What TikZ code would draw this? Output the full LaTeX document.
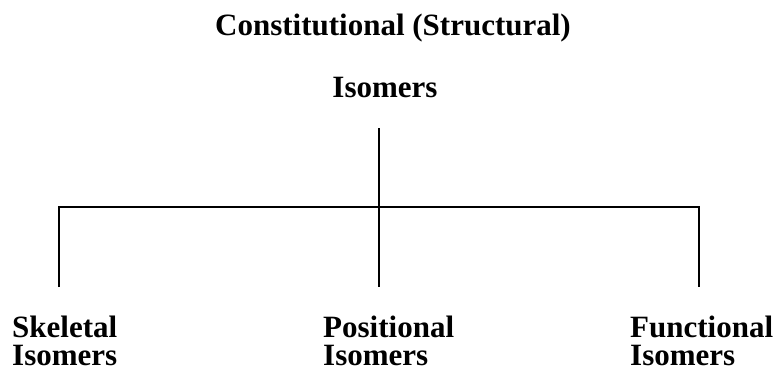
\documentclass[tikz,border=0pt]{standalone}
\usepackage{fontspec}
\setmainfont{Liberation Serif}
\begin{document}
\begin{tikzpicture}[x=1pt,y=-1pt,
  lbl/.style={inner sep=0pt,font=\fontsize{31}{30}\selectfont\bfseries},
  conn/.style={line width=2pt,line cap=butt}]
\useasboundingbox (0,0) rectangle (773,373);
% title
\node[lbl,anchor=base] (t1) at (393,35) {Constitutional (Structural)};
\node[lbl,anchor=base] (t2) at (385,97) {Isomers};
% tree coordinates
\coordinate (top) at (379,128);
\coordinate (hub) at (379,207);
\coordinate (hl) at (59,207);
\coordinate (hr) at (699,207);
\coordinate (el) at (59,287);
\coordinate (ec) at (379,287);
\coordinate (er) at (699,287);
\draw[conn] (top) -- (hub);
\draw[conn] (el) -- (hl) -- (hr) -- (er);
\draw[conn] (hub) -- (ec);
% bottom labels
\node[lbl,anchor=base west] (s1) at (12,337) {Skeletal};
\node[lbl,anchor=base west,text depth=0pt] (s2) at (12,365) {Isomers};
\node[lbl,anchor=base west] (p1) at (323,337) {Positional};
\node[lbl,anchor=base west,text depth=0pt] (p2) at (323,365) {Isomers};
\node[lbl,anchor=base west] (f1) at (630,337) {Functional};
\node[lbl,anchor=base west,text depth=0pt] (f2) at (630,365) {Isomers};
\end{tikzpicture}
\end{document}
